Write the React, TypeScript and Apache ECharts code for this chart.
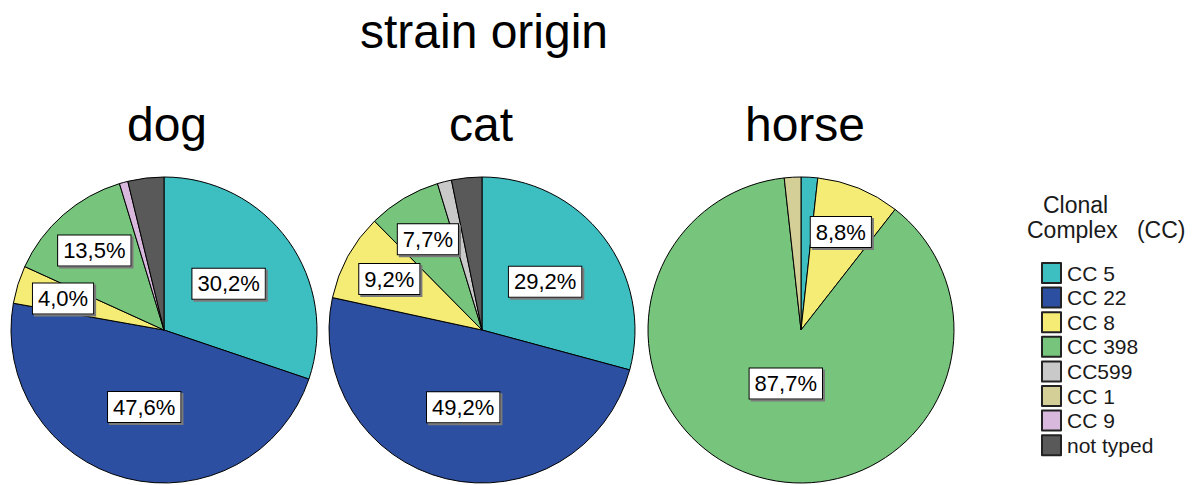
import React, { useEffect, useRef } from 'react';
import * as echarts from 'echarts';

const categories = ['CC 5', 'CC 22', 'CC 8', 'CC 398', 'CC599', 'CC 1', 'CC 9', 'not typed'];
const colors = ['#3DBFC2', '#2D4FA1', '#F4EC74', '#77C47D', '#C9C9C9', '#D4CF96', '#D9B8DE', '#595959'];
const origins = ['dog', 'cat', 'horse'];
const dogValues = [30.2, 47.6, 4.0, 13.5, 0, 0, 0.9, 3.8];
const catValues = [29.2, 49.2, 9.2, 7.7, 1.5, 0, 0, 3.2];
const horseValues = [1.75, 0, 8.8, 87.7, 0, 1.75, 0, 0];
const mainTitle = 'strain origin';
const legendTitle = ['Clonal', 'Complex   (CC)'];

const FONT = '"Liberation Sans", Arial, Helvetica, sans-serif';
const centers: [number, number][] = [[164, 330], [482, 330], [801, 330]];
const titleX = [167, 481, 805];
const RADIUS = 153;

export default function App() {
  const ref = useRef<HTMLDivElement>(null);
  useEffect(() => {
    if (!ref.current) return;
    const chart = echarts.init(ref.current, undefined, { renderer: 'svg' });
    const allValues = [dogValues, catValues, horseValues];

    const series = allValues.map((vals, si) => {
      const data = categories
        .map((name, i) => ({
          name,
          value: vals[i],
          itemStyle: { color: colors[i] },
          label: { show: vals[i] >= 4 },
        }))
        .filter((d) => d.value > 0);
      return {
        type: 'pie',
        name: origins[si],
        center: centers[si],
        radius: RADIUS,
        startAngle: 90,
        clockwise: true,
        silent: true,
        emphasis: { disabled: true },
        itemStyle: { borderColor: '#000', borderWidth: 1 },
        label: {
          show: true,
          position: 'inside',
          formatter: (p: any) => p.value.toFixed(1).replace('.', ',') + '%',
          fontFamily: FONT,
          fontSize: 22,
          lineHeight: 23,
          color: '#000',
          backgroundColor: '#fff',
          borderColor: '#000',
          borderWidth: 1,
          padding: [4, 5, 3, 5],
          shadowColor: '#7a7a7a',
          shadowOffsetX: 2,
          shadowOffsetY: 2,
          shadowBlur: 0,
        },
        labelLine: { show: false },
        labelLayout: (params: any) => {
          const c = centers[si];
          const r = params.labelRect;
          const lx = r.x + r.width / 2;
          const ly = r.y + r.height / 2;
          const d = data[params.dataIndex];
          const v = d ? d.value : 20;
          const f = v < 15 ? 1.33 : v > 80 ? 0.7 : 1;
          return { x: c[0] + (lx - c[0]) * f, y: c[1] + (ly - c[1]) * f };
        },
        data,
      };
    });

    const graphic: any[] = [
      {
        type: 'text',
        x: 484,
        y: 31,
        style: { text: mainTitle, font: `48px ${FONT}`, fill: '#000', textAlign: 'center', textVerticalAlign: 'middle' },
      },
      ...origins.map((o, i) => ({
        type: 'text',
        x: titleX[i],
        y: 124,
        style: { text: o, font: `48px ${FONT}`, fill: '#000', textAlign: 'center', textVerticalAlign: 'middle' },
      })),
      {
        type: 'text',
        x: 1043,
        y: 205,
        style: { text: legendTitle[0], font: `23px ${FONT}`, fill: '#1a1a1a', textAlign: 'left', textVerticalAlign: 'middle' },
      },
      {
        type: 'text',
        x: 1027,
        y: 230,
        style: { text: legendTitle[1], font: `23px ${FONT}`, fill: '#1a1a1a', textAlign: 'left', textVerticalAlign: 'middle' },
      },
    ];

    chart.setOption({
      animation: false,
      backgroundColor: '#fff',
      legend: {
        orient: 'vertical',
        left: 1036,
        top: 257,
        data: categories,
        icon: 'rect',
        itemWidth: 19,
        itemHeight: 20,
        itemGap: 2.6,
        selectedMode: false,
        itemStyle: { borderColor: '#222', borderWidth: 2 },
        textStyle: { fontFamily: FONT, fontSize: 21, lineHeight: 21, color: '#1a1a1a', padding: [0, 0, 0, 1] },
      },
      graphic,
      series,
    } as any);
    return () => chart.dispose();
  }, []);
  return <div ref={ref} style={{ position: 'fixed', left: 0, top: 0, width: 1199, height: 485 }} />;
}
